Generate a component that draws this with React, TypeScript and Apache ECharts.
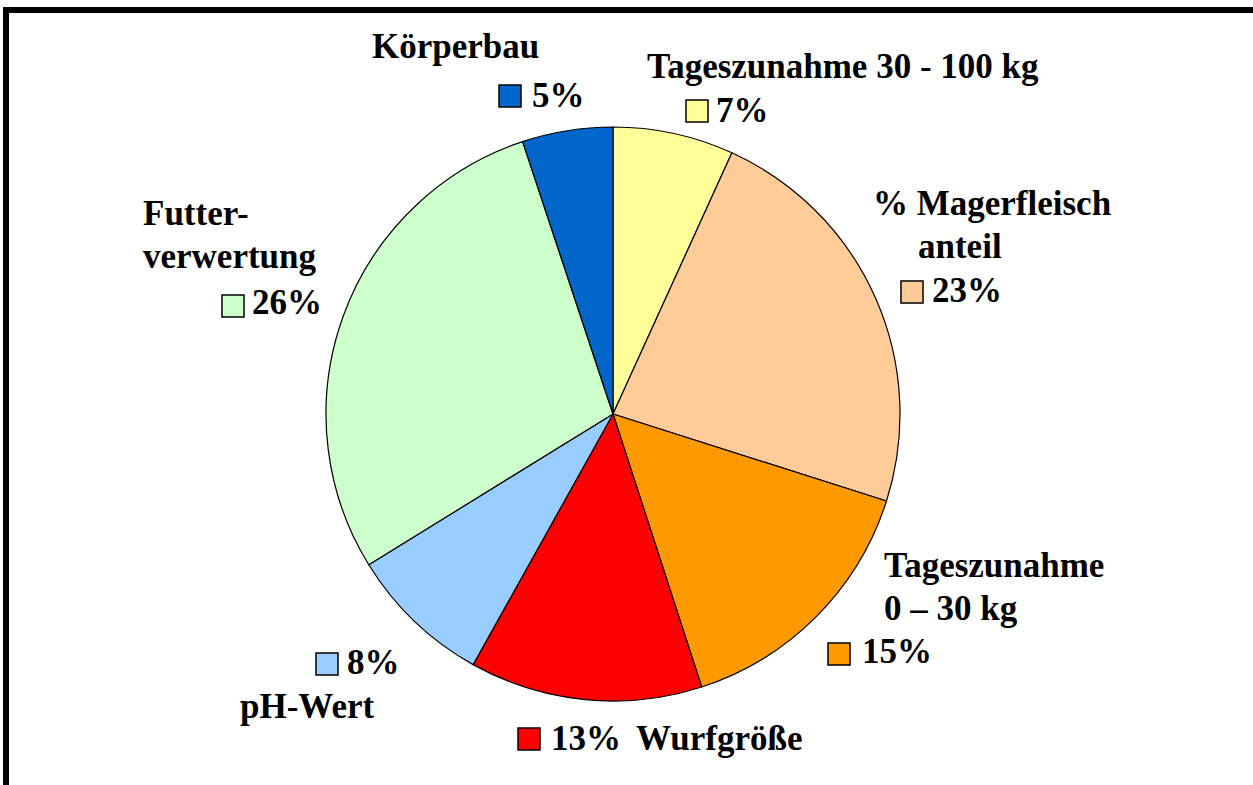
import React, { useEffect, useRef } from "react";
import * as echarts from "echarts";

// Slices clockwise from 12 o'clock
const categories = [
  "Tageszunahme 30 - 100 kg",
  "% Magerfleisch\nanteil",
  "Tageszunahme\n0 – 30 kg",
  "Wurfgröße",
  "pH-Wert",
  "Futter-\nverwertung",
  "Körperbau",
];
// slice shares
const shares = [6.8, 23.1, 15.1, 13.1, 8.1, 28.7, 5.1];
// percentages printed in the labels
const pctLabels = ["7%", "23%", "15%", "13%", "8%", "26%", "5%"];
const colors = ["#FFFF99", "#FFCC99", "#FF9900", "#FF0000", "#99CCFF", "#CCFFCC", "#0066CC"];

// label layout (pixels): name lines (x, baseline), square (x, bottom), percent (x, baseline)
const labelLayout = [
  { lines: [[647, 78]], sq: [686, 122], pct: [716, 122] },
  { lines: [[873, 215], [918, 258]], sq: [901, 303], pct: [932, 302] },
  { lines: [[884, 577], [884, 620]], sq: [828, 665], pct: [862, 663] },
  { lines: [[636, 750]], sq: [518, 750], pct: [551, 750] },
  { lines: [[240, 718]], sq: [316, 675], pct: [347, 674] },
  { lines: [[143, 225], [143, 268]], sq: [222, 317], pct: [252, 314] },
  { lines: [[372, 58]], sq: [499, 107], pct: [532, 107] },
];

const FONT = 'bold 35px "Liberation Serif", "Times New Roman", serif';
const BASE_OFF = 11.8; // baseline offset from text middle
const SQ = 22;

export default function App() {
  const ref = useRef<HTMLDivElement>(null);
  useEffect(() => {
    if (!ref.current) return;
    const chart = echarts.init(ref.current, null, { renderer: "svg" });

    const graphics: any[] = [
      {
        type: "rect",
        shape: { x: 6, y: 10, width: 1250, height: 800 },
        style: { fill: "none", stroke: "#000", lineWidth: 6 },
        silent: true,
        z: 10,
      },
    ];
    categories.forEach((name, i) => {
      const lay = labelLayout[i];
      const parts = name.split("\n");
      parts.forEach((t, j) => {
        const [x, b] = lay.lines[j];
        graphics.push({
          type: "text",
          x,
          y: b - BASE_OFF,
          style: { text: t, font: FONT, fill: "#000", align: "left", verticalAlign: "middle" },
        });
      });
      graphics.push({
        type: "rect",
        shape: { x: lay.sq[0], y: lay.sq[1] - SQ, width: SQ, height: SQ },
        style: { fill: colors[i], stroke: "#000", lineWidth: 1.5 },
      });
      graphics.push({
        type: "text",
        x: lay.pct[0],
        y: lay.pct[1] - BASE_OFF,
        style: { text: pctLabels[i], font: FONT, fill: "#000", align: "left", verticalAlign: "middle" },
      });
    });

    chart.setOption({
      animation: false,
      backgroundColor: "#fff",
      series: [
        {
          type: "pie",
          center: [613, 414],
          radius: [0, 287],
          startAngle: 90,
          clockwise: true,
          label: { show: false },
          labelLine: { show: false },
          itemStyle: { borderColor: "#000", borderWidth: 1.2 },
          emphasis: { disabled: true },
          data: categories.map((n, i) => ({
            name: n.replace("\n", " "),
            value: shares[i],
            itemStyle: { color: colors[i] },
          })),
        },
      ],
      graphic: graphics,
    });
    return () => chart.dispose();
  }, []);
  return (
    <div
      ref={ref}
      style={{ position: "fixed", left: 0, top: 0, width: 1253, height: 785, background: "#fff" }}
    />
  );
}
